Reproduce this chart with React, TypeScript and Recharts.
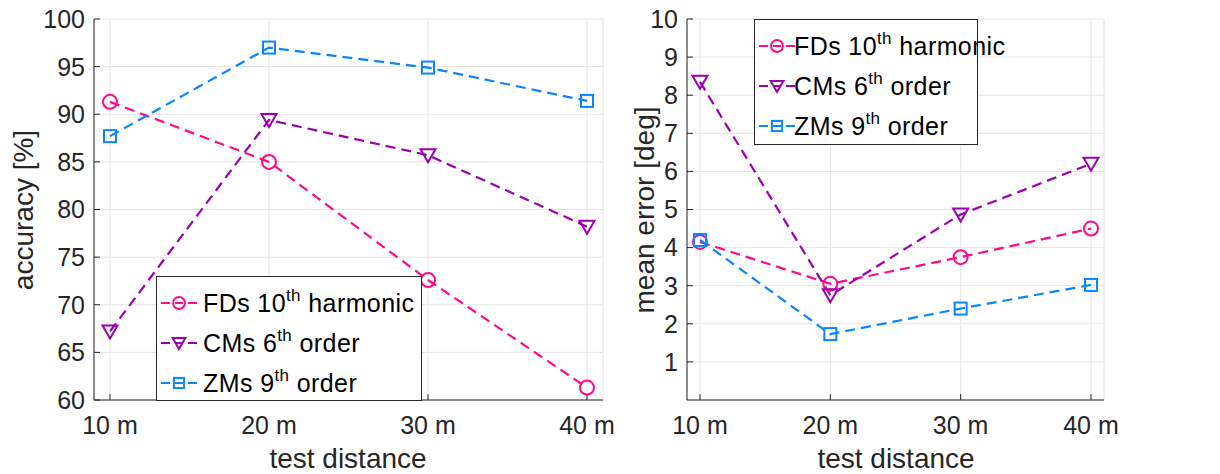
import React from "react";
import { LineChart, Line, XAxis, YAxis, CartesianGrid } from "recharts";

const distances = ["10 m", "20 m", "30 m", "40 m"];

const accFDs = [91.3, 85.0, 72.6, 61.3];
const accCMs = [67.2, 89.4, 85.7, 78.2];
const accZMs = [87.7, 97.0, 94.9, 91.4];

const errFDs = [4.15, 3.05, 3.75, 4.5];
const errCMs = [8.35, 2.75, 4.87, 6.2];
const errZMs = [4.2, 1.73, 2.4, 3.02];

const accTicks = [60, 65, 70, 75, 80, 85, 90, 95, 100];
const errTicks = [1, 2, 3, 4, 5, 6, 7, 8, 9, 10];

const FONT = '"Liberation Sans", Arial, Helvetica, sans-serif';
const TEXT = "#262626";
const AXIS = "#262626";
const GRID = "#e3e3e3";

type MarkerKind = "circle" | "triangle" | "square";

const SERIES: { key: string; name: string; sup: string; rest: string; color: string; marker: MarkerKind }[] = [
  { key: "fd", name: "FDs 10", sup: "th", rest: " harmonic", color: "#ff0a84", marker: "circle" },
  { key: "cm", name: "CMs 6", sup: "th", rest: " order", color: "#9a00ad", marker: "triangle" },
  { key: "zm", name: "ZMs 9", sup: "th", rest: " order", color: "#0a84ff", marker: "square" },
];

const accData = distances.map((d, i) => ({ d, fd: accFDs[i], cm: accCMs[i], zm: accZMs[i] }));
const errData = distances.map((d, i) => ({ d, fd: errFDs[i], cm: errCMs[i], zm: errZMs[i] }));

function Marker({ kind, cx, cy, color, s = 1 }: { kind: MarkerKind; cx: number; cy: number; color: string; s?: number }) {
  if (kind === "circle") {
    return <circle cx={cx} cy={cy} r={7 * s} fill="none" stroke={color} strokeWidth={2} />;
  }
  if (kind === "square") {
    const h = 6 * s;
    return <rect x={cx - h} y={cy - h} width={2 * h} height={2 * h} fill="none" stroke={color} strokeWidth={2} />;
  }
  const w = 7.5 * s;
  const pts = `${cx - w},${cy - 6 * s} ${cx + w},${cy - 6 * s} ${cx},${cy + 7 * s}`;
  return <polygon points={pts} fill="none" stroke={color} strokeWidth={2} strokeLinejoin="miter" />;
}

function makeDot(kind: MarkerKind, color: string) {
  return (props: any) => {
    const { cx, cy, index } = props;
    if (cx == null || cy == null) return <g key={`n-${index}`} />;
    return (
      <g key={`m-${kind}-${index}`}>
        <Marker kind={kind} cx={cx} cy={cy} color={color} />
      </g>
    );
  };
}

const noLabel = () => <g />;

function LegendBox({ left, top, width, height, textLeft }: { left: number; top: number; width: number; height: number; textLeft: number }) {
  return (
    <div
      style={{
        position: "absolute",
        left,
        top,
        width,
        height,
        boxSizing: "border-box",
        border: `1px solid ${AXIS}`,
        background: "#fff",
        fontFamily: FONT,
        color: "#000",
      }}
    >
      {SERIES.map((s, i) => (
        <div
          key={s.key}
          style={{ position: "absolute", left: 0, top: 6 + i * 40, height: 40, width: "100%" }}
        >
          <svg width={42} height={40} style={{ position: "absolute", left: 3, top: 0 }}>
            <line x1={1} y1={20} x2={10} y2={20} stroke={s.color} strokeWidth={2} />
            <line x1={28} y1={20} x2={37} y2={20} stroke={s.color} strokeWidth={2} />
            <Marker kind={s.marker} cx={19} cy={20} color={s.color} s={0.85} />
            <line x1={15} y1={20} x2={23} y2={20} stroke={s.color} strokeWidth={2} />
          </svg>
          <div
            style={{
              position: "absolute",
              left: textLeft,
              top: 4,
              fontSize: 25,
              letterSpacing: 0.4,
              lineHeight: "32px",
              whiteSpace: "nowrap",
            }}
          >
            {s.name}
            <sup style={{ fontSize: 17, verticalAlign: "baseline", position: "relative", top: -11 }}>{s.sup}</sup>
            {s.rest}
          </div>
        </div>
      ))}
    </div>
  );
}

function Panel({
  data,
  ticks,
  domain,
  width,
  margin,
  yWidth,
  pad,
}: {
  data: any[];
  ticks: number[];
  domain: [number, number];
  width: number;
  margin: { top: number; right: number; bottom: number; left: number };
  yWidth: number;
  pad: number;
}) {
  const tickStyle = { fill: TEXT, fontSize: 25, fontFamily: FONT };
  return (
    <LineChart width={width} height={474} data={data} margin={margin}>
      <CartesianGrid stroke={GRID} strokeWidth={1} />
      <XAxis
        dataKey="d"
        type="category"
        padding={{ left: pad, right: pad }}
        height={40}
        axisLine={{ stroke: AXIS, strokeWidth: 1 }}
        tickLine={{ stroke: AXIS }}
        tickSize={-6}
        tickMargin={22}
        tick={tickStyle}
        interval={0}
      />
      <XAxis
        xAxisId="top"
        orientation="top"
        dataKey="d"
        type="category"
        padding={{ left: pad, right: pad }}
        height={0}
        axisLine={{ stroke: "#444", strokeWidth: 1 }}
        tickLine={{ stroke: AXIS }}
        tickSize={-6}
        tick={noLabel}
        interval={0}
      />
      <YAxis
        type="number"
        domain={domain}
        ticks={ticks}
        width={yWidth}
        axisLine={{ stroke: AXIS, strokeWidth: 1 }}
        tickLine={{ stroke: AXIS }}
        tickSize={-6}
        tickMargin={15}
        tick={tickStyle}
        interval={0}
        allowDataOverflow
      />
      <YAxis
        yAxisId="right"
        orientation="right"
        type="number"
        domain={domain}
        ticks={ticks}
        width={0}
        axisLine={{ stroke: "#444", strokeWidth: 1 }}
        tickLine={{ stroke: AXIS }}
        tickSize={-6}
        tick={noLabel}
        interval={0}
        allowDataOverflow
      />
      {SERIES.map((s) => (
        <Line
          key={s.key}
          dataKey={s.key}
          stroke={s.color}
          strokeWidth={2.2}
          strokeDasharray="10 6"
          type="linear"
          dot={makeDot(s.marker, s.color)}
          activeDot={false}
          isAnimationActive={false}
        />
      ))}
    </LineChart>
  );
}

const titleStyle: React.CSSProperties = {
  position: "absolute",
  fontFamily: FONT,
  fontSize: 28,
  lineHeight: "20px",
  color: TEXT,
  whiteSpace: "nowrap",
};

export default function App() {
  return (
    <div style={{ position: "absolute", left: 0, top: 0, width: 1220, height: 474, background: "#fff", overflow: "hidden" }}>
      <div style={{ position: "absolute", left: 0, top: 0 }}>
        <Panel
          data={accData}
          ticks={accTicks}
          domain={[60, 100]}
          width={640}
          margin={{ top: 19, right: 37, bottom: 34, left: 34 }}
          yWidth={60}
          pad={16}
        />
      </div>
      <div style={{ position: "absolute", left: 610, top: 0 }}>
        <Panel
          data={errData}
          ticks={errTicks}
          domain={[0, 10]}
          width={610}
          margin={{ top: 19, right: 116, bottom: 34, left: 27 }}
          yWidth={50}
          pad={13}
        />
      </div>
      <div style={{ ...titleStyle, left: 348, top: 449, transform: "translateX(-50%)" }}>test distance</div>
      <div style={{ ...titleStyle, left: 896, top: 449, transform: "translateX(-50%)" }}>test distance</div>
      <div style={{ ...titleStyle, lineHeight: "34px", left: 24, top: 210, transform: "translate(-50%, -50%) rotate(-90deg)" }}>accuracy [%]</div>
      <div style={{ ...titleStyle, lineHeight: "34px", left: 645, top: 210, transform: "translate(-50%, -50%) rotate(-90deg)" }}>mean error [deg]</div>
      <LegendBox left={156} top={276} width={266} height={125} textLeft={46} />
      <LegendBox left={754} top={19} width={224} height={126} textLeft={39} />
    </div>
  );
}
